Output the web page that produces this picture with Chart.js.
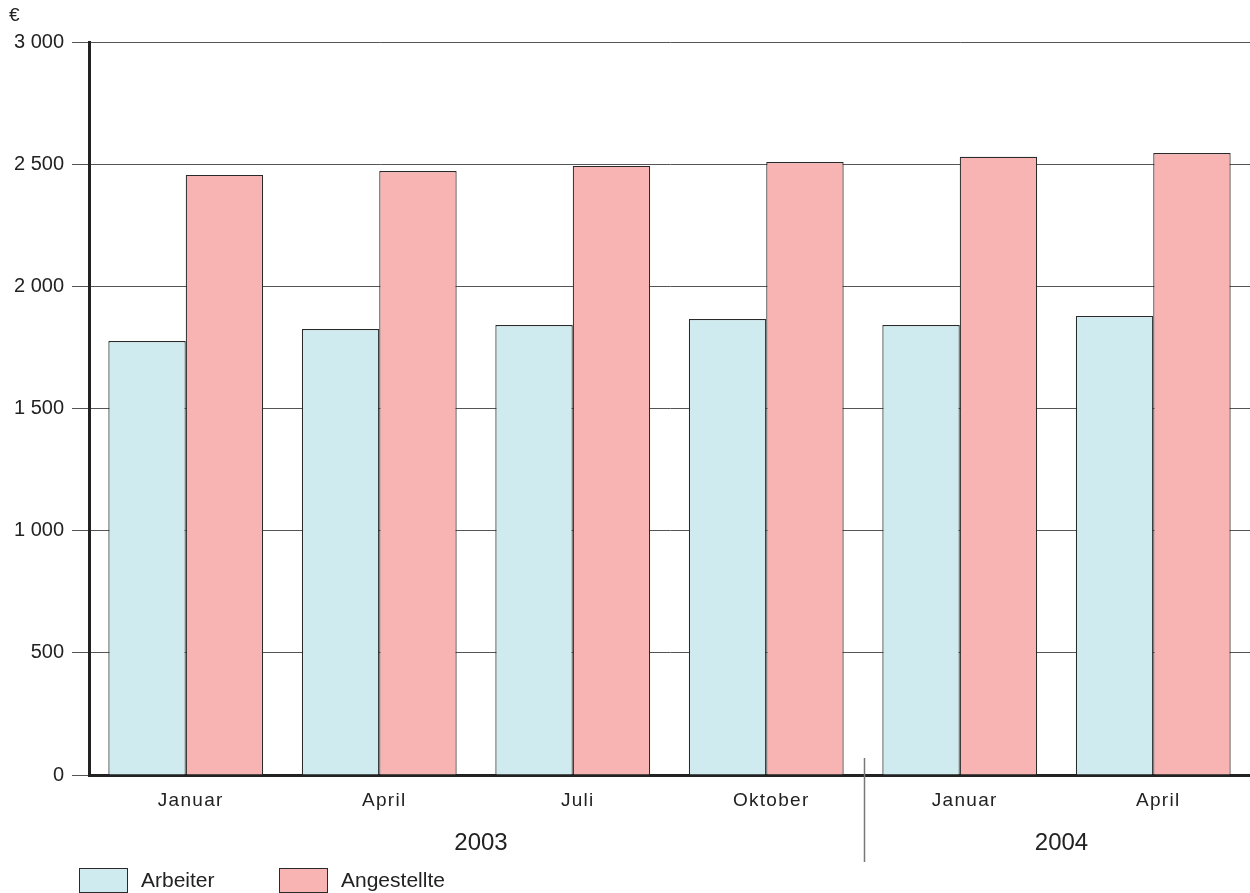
<!DOCTYPE html>
<html>
<head>
<meta charset="utf-8">
<script src="https://cdn.jsdelivr.net/npm/chart.js@4/dist/chart.umd.min.js"></script>
<style>
  body { margin: 0; background: #fff; }
  #wrap { width: 1250px; height: 893px; }
</style>
</head>
<body>
<div id="wrap"><canvas id="chart" width="1250" height="893"></canvas></div>
<script>
    // data
    let months = ["Januar", "April", "Juli", "Oktober", "Januar", "April"];
    let years = ["2003", "2004"];
    let yearSpans = [[0, 3], [4, 5]];   // first and last month index of each year
    let arbeiter = [1776, 1825, 1842, 1866, 1842, 1879];
    let angestellte = [2456, 2472, 2493, 2509, 2530, 2546];
    let seriesNames = ["Arbeiter", "Angestellte"];
    let unitLabel = "€";

    let blueFill = "#d0ebf0";
    let pinkFill = "#f7b4b3";
    let edge = "#2a2a2a";
    let fontName = "'Liberation Sans', Arial, sans-serif";

    function formatThousands(v) {
        let s = String(v);
        return s.length > 3 ? s.slice(0, s.length - 3) + " " + s.slice(-3) : s;
    }

    // month labels (spaced), year labels, divider, legend and unit sign
    const extrasPlugin = {
        id: 'extras',
        afterDraw(chart) {
            let ctx = chart.ctx;
            let x = chart.scales.x;
            let area = chart.chartArea;
            ctx.save();

            ctx.fillStyle = "#222";
            ctx.font = "19px " + fontName;
            ctx.textAlign = "left";
            ctx.textBaseline = "middle";
            ctx.fillText(unitLabel, 9, 16);

            ctx.font = "19px " + fontName;
            ctx.textAlign = "center";
            ctx.letterSpacing = "1.3px";
            months.forEach((m, i) => {
                ctx.fillText(m, x.getPixelForValue(i) + 5, 801);
            });
            ctx.letterSpacing = "0px";

            ctx.font = "24px " + fontName;
            yearSpans.forEach((span, i) => {
                let cx = (x.getPixelForValue(span[0]) + x.getPixelForValue(span[1])) / 2;
                ctx.fillText(years[i], cx + 5, 843);
            });

            // divider between the two years
            let step = x.getPixelForValue(1) - x.getPixelForValue(0);
            let dx = Math.round(x.getPixelForValue(yearSpans[0][1]) + step / 2) + 1.5;
            ctx.strokeStyle = "#777";
            ctx.lineWidth = 1.5;
            ctx.beginPath();
            ctx.moveTo(dx, area.bottom - 17);
            ctx.lineTo(dx, 862);
            ctx.stroke();

            // legend
            let boxes = [79, 279];
            ctx.font = "21px " + fontName;
            ctx.textAlign = "left";
            chart.data.datasets.forEach((ds, i) => {
                ctx.fillStyle = ds.backgroundColor;
                ctx.fillRect(boxes[i] + 0.5, 868.5, 48, 24);
                ctx.strokeStyle = edge;
                ctx.lineWidth = 1;
                ctx.strokeRect(boxes[i] + 0.5, 868.5, 48, 24);
                ctx.fillStyle = "#222";
                ctx.fillText(ds.label, boxes[i] + 62, 881);
            });
            ctx.restore();
        }
    };

    let ctx = document.getElementById('chart').getContext('2d');
    let chart = new Chart(ctx, {
        type: 'bar',
        data: {
            labels: months,
            datasets: [
                { label: seriesNames[0], data: arbeiter, backgroundColor: blueFill, borderColor: edge, borderWidth: 1.2 },
                { label: seriesNames[1], data: angestellte, backgroundColor: pinkFill, borderColor: edge, borderWidth: 1.2 }
            ]
        },
        options: {
            responsive: false,
            animation: false,
            devicePixelRatio: 1,
            layout: { padding: { top: 42, right: 0, bottom: 0, left: 0 } },
            datasets: { bar: { categoryPercentage: 0.8, barPercentage: 1.0 } },
            plugins: { legend: { display: false }, tooltip: { enabled: false } },
            scales: {
                x: {
                    grid: { display: false, drawTicks: false },
                    border: { display: true, color: "#222", width: 3 },
                    ticks: { display: false },
                    afterFit(scale) { scale.height = 118; }
                },
                y: {
                    min: 0,
                    max: 3000,
                    grid: { color: "#555", lineWidth: 1, tickLength: 17, drawTicks: true },
                    border: { display: true, color: "#222", width: 3 },
                    ticks: {
                        stepSize: 500,
                        color: "#222",
                        padding: 8,
                        font: { family: fontName, size: 20 },
                        callback: (v) => formatThousands(v)
                    },
                    afterFit(scale) { scale.width = 89; }
                }
            }
        },
        plugins: [extrasPlugin]
    });
</script>
</body>
</html>
